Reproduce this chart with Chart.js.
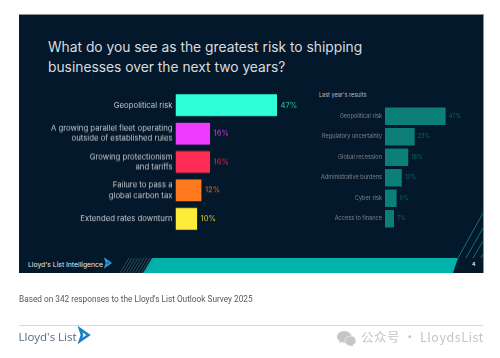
<!DOCTYPE html>
<html><head><meta charset="utf-8">
<script src="https://cdn.jsdelivr.net/npm/chart.js@4"></script>
<style>
html,body{margin:0;padding:0;background:#fff;width:500px;height:358px;overflow:hidden}
#stage{position:relative;width:500px;height:358px;font-family:Inter,sans-serif;filter:blur(.3px)}
#stage>*{position:absolute}
#panel{left:19px;top:13.5px;width:464.5px;height:259.5px;background:#04182b;border-top:1px solid #8c929a;border-right:1px solid #8c929a;box-sizing:border-box}
#band{left:143px;top:258px;width:315px;height:15px;background:#00b2a9;clip-path:polygon(9px 0,315px 0,310px 15px,0 15px)}
.t{white-space:nowrap;line-height:1}
#title{left:48px;top:38px;color:#d8dcdf;font-size:13.8px;line-height:19.5px;white-space:nowrap}
canvas{position:absolute}
</style></head><body>
<div id="stage">
<div id="panel"></div>
<div id="band"></div>
<svg style="left:0;top:0" width="500" height="358">
<g stroke="#3d6f78" stroke-width=".6" id="hatch"></g>
<g stroke="#0b7f7c" stroke-width=".9" fill="none">
<path d="M458 258L483 213M466 258L483 228M473 258L483 241M481 258L483 254"/></g>
<path d="M105.5 259.5l5 3.5-5 3.5 1.2-3.5z" fill="#04182b" stroke="#2a9be0" stroke-width="1.8"/>
<path d="M80 329l8.5 6-8.5 6 2-6z" fill="#fff" stroke="#1c7fc4" stroke-width="2.6" stroke-linejoin="miter"/>
<path d="M344 331c-4 0-7 3-7 6 0 2 1 3 3 4l-1 2 3-1c1 0 2 1 3 1 4 0 7-3 7-6s-4-6-8-6z" fill="#c4c6c8"/>
<path d="M351 336c-3 0-6 2-6 5s3 5 6 5l3 1-1-2c2-1 3-2 3-4 0-3-2-5-5-5z" fill="#c4c6c8" stroke="#fff" stroke-width=".6"/>
</svg>
<div id="title">What do you see as the greatest risk to shipping<br>businesses over the next two years?</div>
<div class="t" style="left:319px;top:93px;font-size:5.5px;color:#b9bfc4">Last year's results</div>
<div class="t" style="left:28px;top:262px;font-size:6.8px;color:#e6e8ea;font-weight:400">Lloyd's List Intelligence</div>
<div class="t" style="left:472px;top:262px;font-size:5px;color:#e6e8ea;font-weight:700">4</div>
<div class="t" style="left:19px;top:295px;font-size:8.25px;color:#55585c;font-family:Roboto">Based on 342 responses to the Lloyd's List Outlook Survey 2025</div>
<div style="left:19px;top:325px;width:464px;height:1px;background:#d8d9da"></div>
<div class="t" style="left:18.5px;top:331px;font-size:11.5px;color:#5a6a7e;font-family:'Open Sans'">Lloyd's List</div>
<div class="t" style="left:361px;top:331px;font-size:12.5px;color:#c2c4c6;letter-spacing:.55px;font-family:'Noto Sans CJK SC'">公众号 · LloydsList</div>
<canvas id="left" width="280" height="143" style="left:30px;top:90.75px;width:280px;height:142.5px"></canvas>
<canvas id="right" width="190" height="123" style="left:300px;top:106px;width:190px;height:122.5px"></canvas>
</div>
<script>
const leftCategories=["Geopolitical risk",["A growing parallel fleet operating","outside of established rules"],["Growing protectionism","and tariffs"],["Failure to pass a","global carbon tax"],"Extended rates downturn"];
const leftValues=[47,16,16,12,10];
const leftColors=["#2effd8","#ee3bff","#ff2d55","#ff7a1f","#ffec3a"];
const leftLabelColors=["#1fb59a","#bf2fd0","#c8264a","#c8641f","#c9b92e"];
const rightCategories=["Geopolitical risk","Regulatory uncertainty","Global recession","Administrative burdens","Cyber risk","Access to finance"];
const rightValues=[47,23,18,13,9,7];
const rightColor="#0c7f79";
const rightLabelColor="#0b5f5c";

const valueLabels={id:"valueLabels",afterDatasetsDraw(c,a,o){
  const x=c.ctx,m=c.getDatasetMeta(0);
  x.save();x.font=o.font;x.textBaseline="middle";x.textAlign="left";
  m.data.forEach((b,i)=>{x.fillStyle=o.colors[i]||o.colors[0];x.fillText(c.data.datasets[0].data[i]+"%",b.x+o.gap,b.y);});
  x.restore();
}};
function bar(id,labels,data,colors,labelColors,axisWidth,areaWidth,barPct,tickFont,tickColor,lblFont,gap,lineH){
  const el=document.getElementById(id);
  new Chart(el,{type:"bar",plugins:[valueLabels],
    data:{labels,datasets:[{data,backgroundColor:colors,borderWidth:0,barPercentage:barPct,categoryPercentage:1}]},
    options:{indexAxis:"y",responsive:false,animation:false,
      layout:{padding:0},
      plugins:{legend:{display:false},tooltip:{enabled:false},valueLabels:{font:lblFont,colors:labelColors,gap}},
      scales:{
        x:{display:false,min:0,max:50*(el.clientWidth-axisWidth)/areaWidth,grid:{display:false}},
        y:{afterFit(s){s.width=axisWidth;s.paddingTop=0;s.paddingBottom=0;},grid:{display:false,drawTicks:false,tickLength:0},border:{display:false},
           ticks:{color:tickColor,font:{family:"Inter",size:tickFont,lineHeight:lineH},padding:3,autoSkip:false}}
      }}});
}
bar("left",leftCategories,leftValues,leftColors,leftLabelColors,145.5,108,0.77,7.75,"#c6cacd","500 7.5px Inter",3.5,1.33);
bar("right",rightCategories,rightValues,[rightColor],[rightLabelColor],85,64.5,0.85,5.6,"#7b838a","500 5.6px Inter",3,1.2);
const h=document.getElementById("hatch");
for(const v of [120,123,126,129,132,135,138,141,144]){
  const l=document.createElementNS("http://www.w3.org/2000/svg","line");
  l.setAttribute("x1",v);l.setAttribute("y1",273);l.setAttribute("x2",v+9);l.setAttribute("y2",258);h.appendChild(l);
}
</script>
</body></html>
